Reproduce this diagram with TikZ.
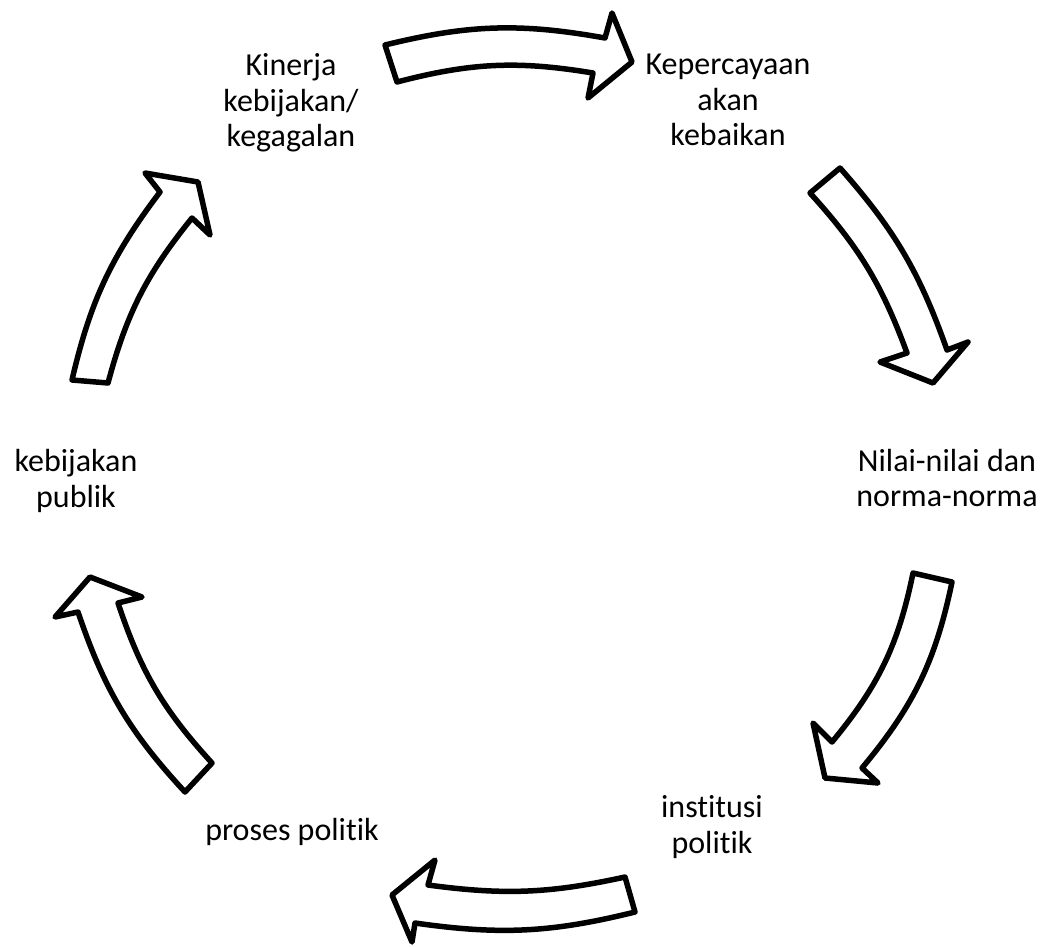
\documentclass[tikz,border=0pt]{standalone}
\usepackage{fontspec}
\setmainfont{Carlito}[Ligatures={NoCommon}]
\begin{document}
\begin{tikzpicture}[x=1pt,y=-1pt,
  blockarrow/.style={draw=black, line width=5.5pt, fill=white, line join=round},
  label/.style={font=\fontsize{32}{35.5}\selectfont, align=center, inner sep=0pt, text=black}]
\useasboundingbox[fill=white] (0,0) rectangle (1043,946);

% text nodes
\node[label] (kinerja) at (291,103) {Kinerja\\kebijakan/\\kegagalan};
\node[label] (percaya) at (728,100) {Kepercayaan\\akan\\kebaikan};
\node[label] (nilai) at (947,478) {Nilai-nilai dan\\norma-norma};
\node[label] (institusi) at (712,827) {institusi\\politik};
\node[label] (proses) at (292,832) {proses politik};
\node[label] (publik) at (76,481) {kebijakan\\publik};

% top arrow (Kinerja -> Kepercayaan)
\draw[blockarrow] (385,45) to[bend left=12] (605,38) -- (612,13) -- (632,62)
  -- (588,98) -- (593,73) to[bend right=12] (397,82) -- cycle;

% upper right arrow (Kepercayaan -> Nilai)
\draw[blockarrow] (840,168) to[bend left=11] (947,350) -- (968,342) -- (933,383)
  -- (880,362) -- (907,353) to[bend right=11] (810,193) -- cycle;

% lower right arrow (Nilai -> institusi)
\draw[blockarrow] (952,582) to[bend left=14] (862,768) -- (878,783) -- (825,778)
  -- (813,723) -- (832,742) to[bend right=14] (913,573) -- cycle;

% bottom arrow (institusi -> proses)
\draw[blockarrow] (625,877) to[bend left=10] (428,885) -- (435,860) -- (392,895)
  -- (412,942) -- (415,923) to[bend right=11] (635,912) -- cycle;

% lower left arrow (proses -> publik)
\draw[blockarrow] (212,763) to[bend left=12] (118,603) -- (142,597) -- (90,577)
  -- (55,617) -- (78,612) to[bend right=12] (185,792) -- cycle;

% upper left arrow (publik -> Kinerja)
\draw[blockarrow] (108,383) to[bend left=12] (192,218) -- (210,235) -- (198,182)
  -- (145,173) -- (160,192) to[bend right=12] (72,380) -- cycle;
\end{tikzpicture}
\end{document}
